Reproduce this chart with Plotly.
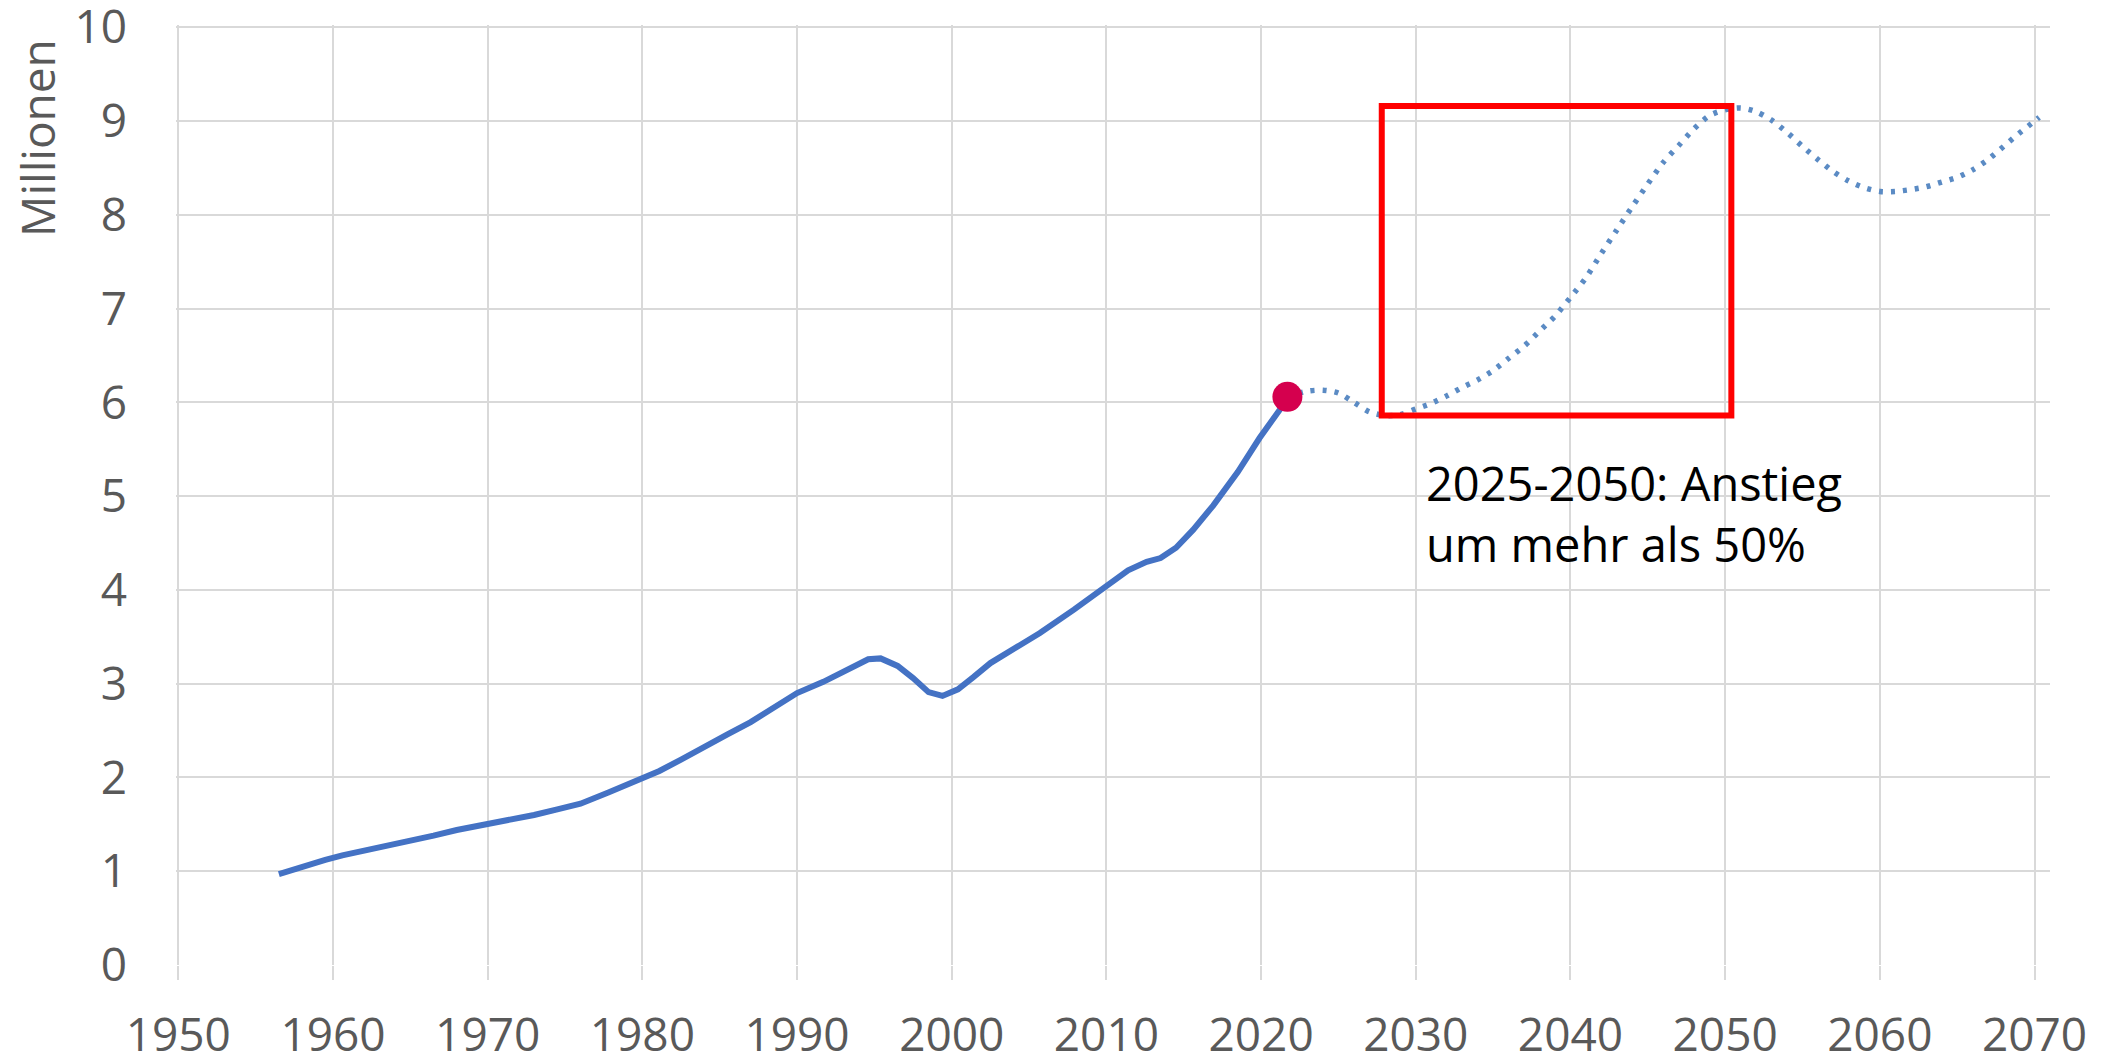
import plotly.graph_objects as go

# Historical population (millions)
hist_years = [1956.5, 1958, 1959.5, 1960.6, 1962, 1963.5, 1965, 1966.5, 1968, 1970,
              1971.5, 1973, 1974.5, 1976, 1977.8, 1979, 1980, 1981.1, 1982.5, 1984,
              1985.5, 1987, 1988.5, 1990, 1991.7, 1993.5, 1994.6, 1995.4, 1996.5, 1997.5,
              1998.5, 1999.4, 2000.4, 2001.4, 2002.5, 2004.4, 2005.7, 2007.9, 2010, 2011.4,
              2012.6, 2013.5, 2014.5, 2015.6, 2016.9, 2018.5, 2019.9, 2020.6, 2021.2, 2021.7]
hist_values = [0.97, 1.05, 1.12, 1.17, 1.22, 1.26, 1.32, 1.38, 1.44, 1.50,
               1.54, 1.60, 1.66, 1.72, 1.84, 1.92, 1.99, 2.07, 2.19, 2.33,
               2.46, 2.59, 2.74, 2.90, 3.02, 3.18, 3.26, 3.27, 3.19, 3.06,
               2.91, 2.87, 2.94, 3.07, 3.22, 3.41, 3.54, 3.79, 4.05, 4.21,
               4.30, 4.34, 4.45, 4.64, 4.90, 5.26, 5.62, 5.78, 5.92, 6.06]

# Projection (millions)
proj_years = [2021.7, 2023, 2024, 2025, 2026, 2027, 2028, 2029, 2030, 2031, 2032, 2033,
              2034, 2035, 2036, 2037, 2038, 2039, 2040, 2041, 2042, 2043, 2044, 2045,
              2046, 2047, 2048, 2049, 2050, 2051, 2052, 2053, 2054, 2055, 2056, 2057,
              2058, 2059, 2060, 2061, 2062, 2063, 2064, 2065, 2066, 2067, 2068, 2069,
              2070, 2070.3]
proj_values = [6.06, 6.12, 6.13, 6.10, 6.00, 5.90, 5.86, 5.87, 5.93, 5.99, 6.07, 6.16,
               6.24, 6.34, 6.47, 6.60, 6.76, 6.92, 7.12, 7.33, 7.59, 7.84, 8.09, 8.33,
               8.56, 8.74, 8.92, 9.06, 9.12, 9.14, 9.10, 9.01, 8.88, 8.73, 8.59, 8.46,
               8.36, 8.29, 8.25, 8.25, 8.27, 8.30, 8.35, 8.40, 8.48, 8.59, 8.73, 8.87,
               9.00, 9.04]

current_year = [2021.7]
current_value = [6.06]

box_years = [2027.8, 2050.4]
box_values = [5.86, 9.16]

annotation_text = "2025-2050: Anstieg<br>um mehr als 50%"
y_title = "Millionen"

GRID = "#D9D9D9"
TXT = "#595959"
FONT = "Open Sans, Noto Sans, sans-serif"

fig = go.Figure()
fig.add_trace(go.Scatter(x=proj_years, y=proj_values, mode="lines",
                         line=dict(color="#5B8BC4", width=5.5, dash="4px,8px", shape="spline", smoothing=0.8),
                         hoverinfo="skip", showlegend=False))
fig.add_trace(go.Scatter(x=hist_years, y=hist_values, mode="lines",
                         line=dict(color="#4472C4", width=6),
                         hoverinfo="skip", showlegend=False))
fig.add_trace(go.Scatter(x=current_year, y=current_value, mode="markers",
                         marker=dict(color="#D5004E", size=30, line=dict(width=0)),
                         hoverinfo="skip", showlegend=False))

fig.add_shape(type="rect", x0=box_years[0], x1=box_years[1], y0=box_values[0], y1=box_values[1],
              xref="x", yref="y", line=dict(color="#FF0000", width=6), fillcolor="rgba(0,0,0,0)")

fig.add_annotation(x=2030.55, y=4.82, xref="x", yref="y", text=annotation_text,
                   showarrow=False, xanchor="left", yanchor="middle", align="left",
                   font=dict(family=FONT, size=47, color="#000000"))
fig.add_annotation(x=-0.0742, y=0.8798, xref="paper", yref="paper", text=y_title,
                   showarrow=False, textangle=-90, xanchor="center", yanchor="middle",
                   font=dict(family=FONT, size=46, color=TXT))

fig.update_layout(
    width=2111, height=1058, autosize=False,
    margin=dict(l=168, r=69, t=17, b=101, pad=0, autoexpand=False),
    paper_bgcolor="white", plot_bgcolor="white",
    font=dict(family=FONT, size=46, color=TXT),
    xaxis=dict(range=[1949.85, 2071.0], tick0=1950, dtick=10, showgrid=True, gridcolor=GRID,
               gridwidth=2, zeroline=False, showline=False, ticks="outside", ticklen=14,
               tickwidth=2, tickcolor=GRID, ticklabelstandoff=16, automargin=False,
               tickfont=dict(family=FONT, size=46, color=TXT)),
    yaxis=dict(range=[0, 10.025], tick0=0, dtick=1, showgrid=True, gridcolor=GRID, gridwidth=2,
               zeroline=False, showline=False, ticks="", ticklabelstandoff=48,
               ticklabeloverflow="allow", automargin=False,
               tickfont=dict(family=FONT, size=46, color=TXT)),
)

fig.write_html("out.html")
